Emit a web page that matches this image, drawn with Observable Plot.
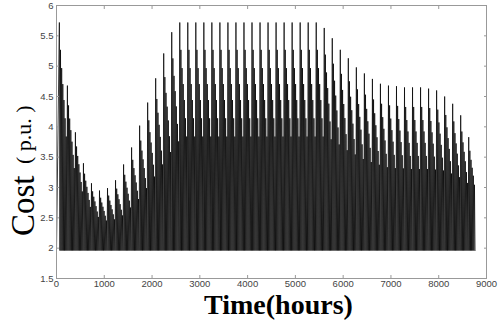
<!DOCTYPE html>
<html><head><meta charset="utf-8">
<script src="https://cdn.jsdelivr.net/npm/d3@7"></script>
<script src="https://cdn.jsdelivr.net/npm/@observablehq/plot@0.6"></script>
<style>
body{margin:0;background:#fff;}
#chart svg{display:block;}
</style></head><body><div id="chart"></div>
<script>
// Weekly peak cost (p.u.), one spike per week
const weekPeaks = [
  5.72, 4.68, 3.91, 3.40, 3.07, 2.95, 2.99, 3.12, 3.38, 3.66,
  4.02, 4.40, 4.80, 5.21, 5.56,
  5.72, 5.72, 5.72, 5.72, 5.72, 5.72, 5.72, 5.72, 5.72,
  5.72, 5.72, 5.72, 5.72, 5.72, 5.72, 5.72, 5.72, 5.72,
  5.63, 5.46, 5.27, 5.13, 4.98, 4.88, 4.79, 4.71, 4.68, 4.67,
  4.65, 4.65, 4.65, 4.63, 4.60, 4.50, 4.38, 4.19, 3.83
];
// Within-week profile of daily peaks (share of the weekly swing)
const dayShape = [1.00, 0.88, 0.80, 0.73, 0.66, 0.58, 0.50];
const floorCost = 1.96;       // daily minimum cost
const firstSpikeHour = 60;
const lastHour = 8760;
const xTicks = [0, 1000, 2000, 3000, 4000, 5000, 6000, 7000, 8000, 9000];
const yTicks = [1.5, 2, 2.5, 3, 3.5, 4, 4.5, 5, 5.5, 6];
const yTickLabels = ["1.5", "2", "2.5", "3", "3.5", "4", "4.5", "5", "5.5", "6"];

const series = [{t: 0, cost: floorCost}];
weekPeaks.forEach((p, k) => {
  dayShape.forEach((s, d) => {
    const t = firstSpikeHour + (k * dayShape.length + d) * 24;
    if (t <= lastHour) series.push({t, cost: floorCost + (p - floorCost) * s});
    if (t + 12 <= lastHour) series.push({t: t + 12, cost: floorCost});
  });
});

const chart = Plot.plot({
  width: 503, height: 323,
  marginLeft: 56, marginRight: 17, marginTop: 5, marginBottom: 45,
  style: {background: "#fff", fontFamily: "'Liberation Sans', Arial, sans-serif", fontSize: "9.5px", color: "#333"},
  x: {domain: [0, 9000]},
  y: {domain: [1.5, 6]},
  marks: [
    Plot.lineY(series, {x: "t", y: "cost", stroke: "#000", strokeWidth: 0.75}),
    Plot.frame({stroke: "#999"}),
    Plot.axisX({anchor: "bottom", ticks: xTicks, tickSize: -3, tickPadding: 5, tickFormat: d => String(d), label: null, stroke: "#999", fill: "#444"}),
    Plot.axisX({anchor: "top", ticks: xTicks, tickSize: -3, tickFormat: () => "", label: null, stroke: "#999"}),
    Plot.axisY({anchor: "left", ticks: yTicks, tickSize: -3, tickPadding: 6, tickFormat: d => yTickLabels[yTicks.indexOf(d)], label: null, stroke: "#999", fill: "#444"}),
    Plot.axisY({anchor: "right", ticks: yTicks, tickSize: -3, tickFormat: () => "", label: null, stroke: "#999"}),
    Plot.text(["Time(hours)"], {frameAnchor: "bottom", dx: 7, dy: 35, lineAnchor: "bottom", fontSize: 28, fontWeight: "bold", fontFamily: "'Liberation Serif', serif", fill: "#000"}),
    Plot.text(["Cost"], {frameAnchor: "left", rotate: -90, textAnchor: "start", lineAnchor: "bottom", dx: -23, dy: 94, fontSize: 33, fontFamily: "'Liberation Serif', serif", fill: "#000"}),
    Plot.text(["( p.u. )"], {frameAnchor: "left", rotate: -90, textAnchor: "start", lineAnchor: "bottom", dx: -26, dy: 22, fontSize: 22, fontFamily: "'Liberation Serif', serif", fill: "#000"})
  ]
});
document.getElementById("chart").appendChild(chart);
</script>
</body></html>
